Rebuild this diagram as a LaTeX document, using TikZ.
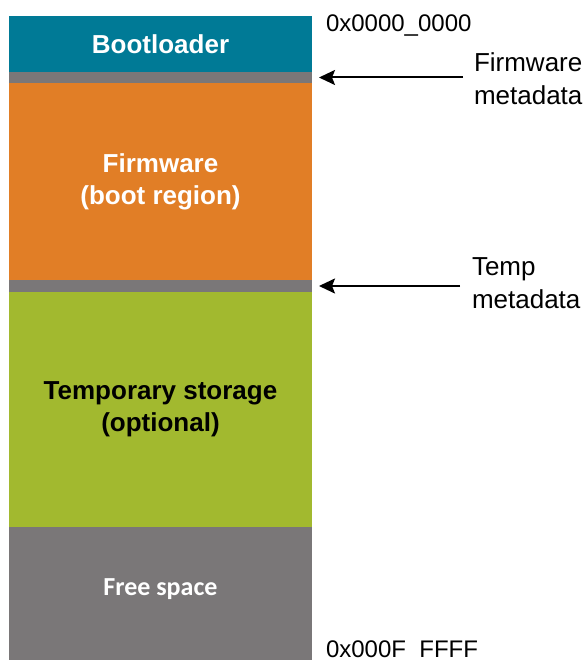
\documentclass[tikz,border=0pt]{standalone}
\usepackage{fontspec}
\setmainfont{Liberation Sans}
\newfontfamily\freefont{Carlito}
\usetikzlibrary{positioning, arrows.meta}

\definecolor{bootblue}{RGB}{0,122,150}
\definecolor{fworange}{RGB}{225,126,38}
\definecolor{tmpgreen}{RGB}{162,185,47}
\definecolor{metagray}{RGB}{122,119,120}

\tikzstyle{region} = [rectangle, minimum width=303pt, inner sep=0pt,
outer sep=0pt, text centered, align=center,
font=\fontsize{26}{32}\selectfont\bfseries]
\tikzstyle{meta} = [region, fill=metagray]
\tikzstyle{tag} = [inner sep=0pt, outer sep=0pt, align=left,
font=\fontsize{24}{33}\selectfont]
\tikzstyle{arrow} = [line width=2pt,
-{Stealth[length=16pt, width=15pt, inset=3pt]}]

\begin{document}
\begin{tikzpicture}[x=1pt, y=-1pt, node distance=0pt]
\useasboundingbox (0,0) rectangle (587,660);

%-------memory map-------------------
\node (boot) [region, fill=bootblue, text=white, minimum height=56pt,
anchor=north west] at (9,16) {Bootloader};

\node (fwmeta) [meta, minimum height=11pt, below=of boot] {};

\node (fw) [region, fill=fworange, text=white, minimum height=197pt,
below=of fwmeta] {Firmware \\ (boot region)};

\node (tmeta) [meta, minimum height=12pt, below=of fw] {};

\node (tmp) [region, fill=tmpgreen, text=black, minimum height=235pt,
below=of tmeta] {Temporary storage \\ (optional)};

\node (free) [region, fill=metagray, text=white, minimum height=133pt,
text depth=12pt, font=\fontsize{26}{32}\selectfont\freefont\bfseries,
below=of tmp] {Free space};

%-------addresses--------------------
\node (topaddr) [tag, anchor=north west, xshift=14pt, yshift=1pt]
at (boot.north east) {0x0000\_0000};

\node (endaddr) [tag, anchor=base west, xshift=14pt, yshift=3pt]
at (free.south east) {0x000F\_FFFF};

%-------metadata labels--------------
\node (fwlab) [tag, font=\fontsize{26}{33}\selectfont,
right=162pt of fwmeta, yshift=-1pt] {Firmware \\ metadata};

\node (tmplab) [tag, font=\fontsize{26}{33}\selectfont,
right=160pt of tmeta, yshift=3pt] {Temp \\ metadata};

\draw [arrow, shorten <=11pt, shorten >=7pt]
(fwlab.west |- fwmeta.east) -- (fwmeta.east);
\draw [arrow, shorten <=12pt, shorten >=7pt]
(tmplab.west |- tmeta.east) -- (tmeta.east);

\end{tikzpicture}
\end{document}
